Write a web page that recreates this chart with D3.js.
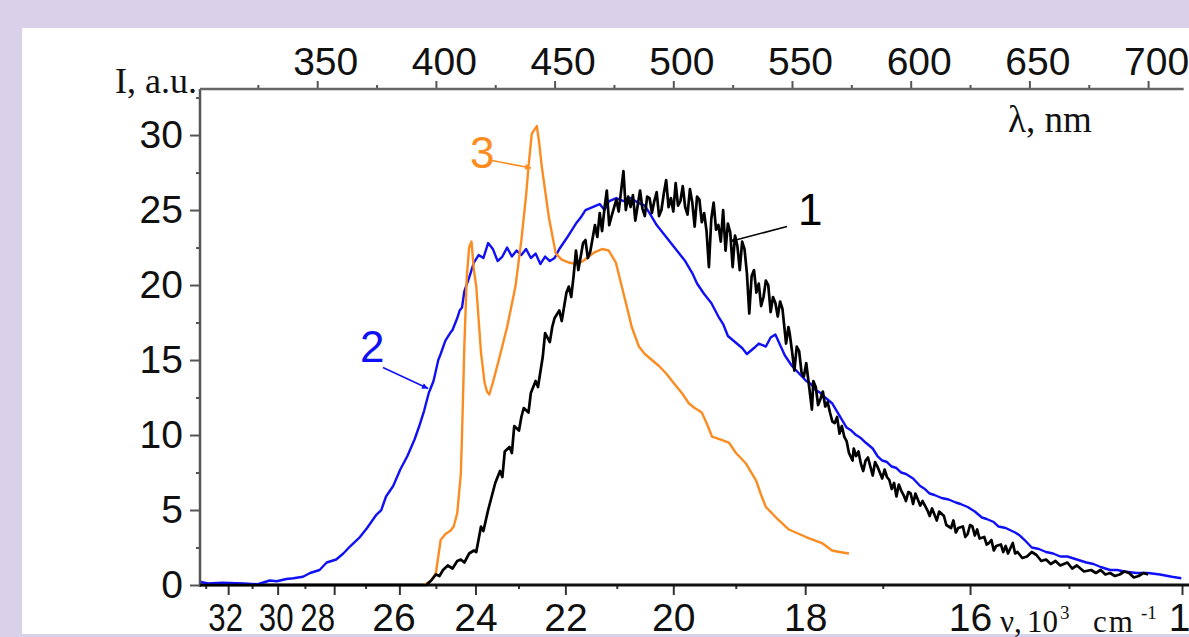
<!DOCTYPE html>
<html>

<head>
  <meta charset="utf-8">
  <title>Spectra</title>
  <script src="https://cdn.jsdelivr.net/npm/d3@7"></script>
  <style>
    body { margin: 0; background: #d9d1e9; }
    svg { display: block; }
  </style>
</head>

<body>
  <svg width="1189" height="637" id="mainsvg"></svg>
  <script>
    // [wavelength nm, intensity a.u.]
    const curve1 = [[301, 0], [396, 0], [398, 0.3], [400, 0.7], [401.5, 0.6], [403, 1.0], [405, 1.3], [407, 1.1], [409, 1.6], [410.5, 1.7], [412, 1.5],
      [414, 2.1], [416, 2.3], [417, 2.2], [419, 3.9], [420, 3.6], [422, 5.0], [424, 6.2], [425, 6.8], [427, 7.6], [428, 7.2], [429, 8.9],
      [431, 9.2], [432, 8.8], [433, 10.6], [435, 10.3], [436, 11.2], [437, 11.8], [439, 11.5], [440, 12.8], [442, 13.6], [443, 13.2], [445, 15.2], [446, 16.8],
      [448, 16.2], [449, 17.2], [450, 17.8], [452, 18.3], [453, 17.6], [455, 19.5], [456, 19.9], [457, 19.2], [458, 20.6], [459, 22.3], [460, 21.0], [462, 22.8],
      [463, 23.0], [464, 21.8], [465, 22.2], [467, 24.0], [468, 23.2], [469, 24.8], [470, 23.6], [471, 25.1], [472, 26.3], [473, 24.0], [474, 24.6], [476, 25.7], [477, 24.9], [479, 27.6],
      [480, 25.0], [481, 25.9], [482, 25.2], [483, 26.0], [484, 24.3], [486, 26.3], [487, 25.1], [488, 24.6], [489, 25.9], [490, 25.8], [491, 24.8], [492, 25.6], [493, 26.2], [494, 24.6], [495, 25.0], [496, 26.1], [497, 27.0],
      [498, 25.2], [499, 25.8], [500, 24.9], [501, 26.8], [502, 25.3], [503, 25.6], [504, 26.6], [505, 25.2], [506, 24.7], [507, 26.4], [508, 25.5], [509, 23.9], [510, 25.9], [511, 25.7], [512, 24.2], [513, 24.8], [514, 23.6], [515, 21.2], [516, 24.4], [517, 25.5],
      [518, 23.7], [519, 24.0], [520, 22.9], [521, 25.0], [522, 22.3], [523, 24.1], [524, 23.5], [525, 21.2], [526, 23.3], [527, 22.6], [528, 21.0], [529, 22.9], [530, 22.4], [531, 20.8], [532, 18.1], [533, 20.6], [534, 21.0],
      [535, 19.5], [536, 20.1], [537, 18.6], [538, 19.2], [539, 20.3], [540, 20.0], [541, 18.2], [542, 19.2], [543, 18.8], [544, 17.9], [545, 18.9], [546, 18.4], [547.5, 16.1], [548.5, 17.2], [549, 16.8], [550, 15.6], [551, 14.3], [552, 15.9], [553, 15.6],
      [554, 14.2], [555, 13.9], [556, 14.8], [557, 13.5], [558.4, 11.7], [559, 13.6], [560, 13.2], [561, 12.0], [562, 12.4], [563, 12.9], [564, 11.9], [565, 12.2], [566, 11.5], [567, 10.9], [568, 10.8], [569, 11.2], [570, 10.1], [571, 10.6], [572, 9.9],
      [573, 9.6], [574, 8.8], [575.5, 8.3], [576, 9.1], [577, 8.6], [578, 8.9], [579, 8.1], [580, 7.6], [581, 8.3], [582, 8.5], [583, 7.9], [584, 7.3], [585, 8.2], [586, 7.9], [587, 7.5], [588, 7.1], [589, 7.7], [590, 7.2], [591, 7.0],
      [592, 6.4], [593, 6.8], [594, 5.9], [595, 6.7], [596, 6.3], [597, 6.0], [598, 5.6], [599, 6.2], [600, 6.1], [601, 5.4], [602, 6.1], [603, 5.7], [604, 5.3], [605, 5.6], [607, 5.0], [608, 4.6], [609, 5.1], [611, 4.3], [612, 4.9], [614, 4.6], [615, 4.0], [617, 3.8],
      [618, 4.3], [619, 3.5], [620, 3.8], [622, 3.9], [623, 3.2], [624, 3.4], [625, 4.0], [626, 3.9], [627, 3.3], [628, 3.7], [629, 3.1], [631, 3.2], [632, 2.7], [633, 2.8], [634, 3.0], [635, 2.3], [636, 2.6], [638, 2.7], [639, 2.2], [640, 2.6],
      [641, 2.1], [643, 2.8], [644, 2.1], [645, 2.2], [647, 1.8], [649, 1.9], [651, 2.2], [653, 2.0], [655, 1.6], [657, 1.7], [659, 1.4], [661, 1.6], [663, 1.3], [666, 1.5], [668, 1.1], [670, 1.3], [673, 0.9], [676, 1.0], [678, 0.8], [680, 1.0],
      [682, 0.7], [684, 0.8], [686, 0.6], [688, 0.7], [690, 0.9], [692, 0.8], [694, 0.5], [696, 0.6], [698, 0.8], [700, 0.7]];

    const curve2 = [[301, 0.2], [304, 0.1], [310, 0.15], [319, 0.1], [325, 0.05], [330, 0.3], [333, 0.25], [337, 0.4], [340, 0.45], [344, 0.55], [347, 0.8], [351, 1.0], [354, 1.5], [358, 1.7], [361, 2.1], [364, 2.6],
      [368, 3.2], [371, 3.8], [375, 4.7], [377, 5.0], [379, 5.9], [382, 6.6], [385, 7.7], [388, 8.6], [391, 9.7], [393, 10.6], [395, 11.6], [396, 12.2], [397, 12.8], [399, 13.6], [401, 15.0], [402, 15.4], [404, 16.3],
      [406, 16.8], [407, 17.0], [409, 17.8], [410, 18.3], [411, 18.5], [412, 19.6], [414, 20.5], [416, 21.5], [418, 22.0], [420, 21.8], [422, 22.8], [424, 22.4], [426, 21.6],
      [428, 21.9], [430, 22.5], [432, 21.9], [434, 22.3], [436, 22.0], [438, 22.4], [440, 21.8], [442, 22.1], [444, 21.4], [446, 21.9],
      [448, 21.6], [450, 21.8], [452, 22.4], [455, 23.1], [457, 23.6], [459, 24.1], [461, 24.5], [463, 25.0], [466, 25.2], [469, 25.4],
      [471, 25.0], [473, 25.6], [476, 25.8], [479, 25.6], [482, 25.8], [485, 25.5], [488, 25.3], [490, 24.8], [493, 24.0], [496, 23.4],
      [499, 22.8], [502, 22.2], [505, 21.6], [508, 20.8], [510, 20.1], [513, 19.4], [516, 18.8], [519, 17.9], [521, 17.4], [523, 16.6],
      [526, 16.2], [529, 15.8], [531, 15.4], [534, 15.8], [536, 16.1], [539, 15.9], [541, 16.5], [543, 16.7], [545, 16.0], [547, 15.3],
      [550, 14.6], [553, 14.1], [556, 13.6], [558, 13.4], [560, 13.0], [562, 12.8], [564, 12.5], [567, 12.1], [570, 11.3], [573, 10.5], [575, 10.3], [577, 10.0], [579, 9.8], [581, 9.5],
      [584, 9.1], [586, 8.6], [588, 8.3], [590, 8.2], [592, 7.9], [594, 7.8], [596, 7.5], [598, 7.4], [601, 7.1], [604, 6.6], [606, 6.4], [608, 6.1], [610, 6.0], [613, 5.8], [616, 5.7], [619, 5.5], [621, 5.4], [624, 5.2],
      [627, 4.9], [630, 4.5], [632, 4.4], [635, 4.2], [637, 3.9], [640, 3.8], [644, 3.5], [646, 3.3], [648, 3.0], [651, 2.5], [654, 2.4], [657, 2.2], [660, 2.1], [663, 1.9], [666, 1.9], [670, 1.7], [674, 1.5],
      [677, 1.4], [680, 1.2], [684, 1.0], [687, 1.0], [690, 0.9], [695, 0.8], [700, 0.8], [705, 0.7], [710, 0.55], [714, 0.45]];

    const curve3 = [[395, 0], [398, 0.3], [400, 0.8], [402, 3.0], [404, 3.4], [406, 3.6], [407.5, 3.9], [409, 4.8], [410.5, 7.4], [411, 10],
      [412, 16], [413, 20.5], [414, 22.5], [415, 22.9], [416, 21], [417, 19.9], [419, 15.5], [420.5, 13.5], [421.5, 12.9], [422.5, 12.7],
      [424, 13.5], [426.5, 15.0], [430, 17.2], [433.5, 19.9], [436, 23.0], [438, 26], [439, 27.9], [440.4, 30.1], [442.5, 30.6], [443.5, 29.5],
      [444.6, 27.9], [447.6, 24.5], [450.5, 22.1], [453, 21.7], [456, 21.5], [459, 21.4], [462, 21.6], [464.4, 21.9], [467, 22.2], [470, 22.4],
      [472.8, 22.3], [475.8, 21.5], [478.3, 19.9], [480.5, 18.5], [482.5, 17.2], [485.5, 15.9], [488, 15.4], [491, 15.0], [494, 14.6], [497, 14.1],
      [500, 13.5], [503.6, 12.8], [506.6, 12.1], [509, 11.8], [512, 11.5], [514, 10.8], [516.3, 9.9], [520, 9.7], [523.4, 9.5], [526.4, 8.8],
      [530.6, 8.1], [534.8, 7.0], [537, 6.0], [539, 5.2], [543.3, 4.5], [548.7, 3.7], [555.9, 3.2], [562.6, 2.8], [566.9, 2.3], [570, 2.2],
      [574, 2.1]];

    const lambdaTicks = [350, 400, 450, 500, 550, 600, 650, 700];
    const lambdaMinor = [325, 375, 425, 475, 525, 575, 625, 675];
    const nuTicks = [32, 30, 28, 26, 24, 22, 20, 18, 16, 14];
    const nuMinor = [33, 31, 29, 27, 25, 23, 21, 19, 17, 15];
    const iTicks = [0, 5, 10, 15, 20, 25, 30];
    const iMinor = [2.5, 7.5, 12.5, 17.5, 22.5, 27.5, 32.5];

    const svg = d3.select('#mainsvg');
    const width = +svg.attr('width');
    const height = +svg.attr('height');

    // lavender frame + white panel
    svg.append('rect').attr('width', width).attr('height', height).attr('fill', '#d9d1e9');
    svg.append('rect').attr('x', 22).attr('y', 28).attr('width', width - 22).attr('height', 606).attr('fill', '#ffffff');

    const xScale = d3.scaleLinear().domain([300, 715]).range([198.5, 1183.7]);
    const yScale = d3.scaleLinear().domain([0, 33.07]).range([585, 89]);
    // wavenumber (10^3 cm-1) -> wavelength 1e4/nu, placed on the same x scale
    const nuDomain = d3.range(33, 13, -1);
    const nuScale = d3.scaleLinear().domain(nuDomain).range(nuDomain.map(v => xScale(1e4 / v)));

    const tickFont = "'Liberation Sans', Arial, sans-serif";
    const serif = "'Liberation Serif', 'Times New Roman', serif";

    const styleAxis = (g, color) => {
      g.select('.domain').remove();
      g.selectAll('line').attr('stroke', color).attr('stroke-width', 2);
      g.selectAll('text').attr('font-family', tickFont).attr('font-size', 39).attr('fill', '#111');
    };

    // top wavelength axis
    const topG = svg.append('g').attr('transform', `translate(0, ${yScale(33.07)})`);
    topG.call(d3.axisTop(xScale).tickValues(lambdaMinor).tickSize(4).tickFormat(''));
    topG.call(g => styleAxis(g, '#555'));
    const topMajor = svg.append('g').attr('transform', `translate(0, ${yScale(33.07)})`)
      .call(d3.axisTop(xScale).tickValues(lambdaTicks).tickSize(8).tickPadding(6));
    topMajor.call(g => styleAxis(g, '#555'));
    topMajor.selectAll('text').attr('dx', 8);

    // left intensity axis
    const leftG = svg.append('g').attr('transform', 'translate(200, 0)');
    leftG.call(d3.axisLeft(yScale).tickValues(iMinor).tickSize(4).tickFormat(''));
    leftG.call(g => styleAxis(g, '#555'));
    const leftMajor = svg.append('g').attr('transform', 'translate(200, 0)')
      .call(d3.axisLeft(yScale).tickValues(iTicks).tickSize(10).tickPadding(7));
    leftMajor.call(g => styleAxis(g, '#555'));

    // bottom wavenumber axis
    const botG = svg.append('g').attr('transform', `translate(0, ${yScale(0)})`);
    botG.call(d3.axisBottom(nuScale).tickValues(nuMinor).tickSize(4).tickFormat(''));
    botG.call(g => styleAxis(g, '#333'));
    const botMajor = svg.append('g').attr('transform', `translate(0, ${yScale(0)})`)
      .call(d3.axisBottom(nuScale).tickValues(nuTicks).tickSize(10).tickPadding(8).tickFormat(d3.format('d')));
    botMajor.call(g => styleAxis(g, '#333'));
    // the crowded labels at the high-wavenumber end are squeezed in the original
    const shift = { 32: -3, 30: -2, 28: -17, 26: -6, 14: 8 };
    botMajor.selectAll('.tick text')
      .attr('transform', d => d >= 28 ? `translate(${shift[d]},0) scale(0.8,1)` : `translate(${shift[d] || 0},0)`);

    // axis lines
    svg.append('line').attr('x1', 200).attr('x2', 200).attr('y1', yScale(33.07)).attr('y2', yScale(0) + 2)
      .attr('stroke', '#555').attr('stroke-width', 2.5);
    svg.append('line').attr('x1', 200).attr('x2', xScale(715)).attr('y1', yScale(33.07)).attr('y2', yScale(33.07))
      .attr('stroke', '#666').attr('stroke-width', 2.5);
    svg.append('line').attr('x1', 200).attr('x2', width).attr('y1', yScale(0)).attr('y2', yScale(0))
      .attr('stroke', '#111').attr('stroke-width', 3);

    // curves
    const line = d3.line().x(d => xScale(d[0])).y(d => yScale(d[1]));
    const series = [
      { data: curve2, color: '#1010f5', w: 2.4 },
      { data: curve3, color: '#fb8c22', w: 2.4 },
      { data: curve1, color: '#000000', w: 2.7 }
    ];
    svg.selectAll('path.curve').data(series).enter().append('path')
      .attr('class', 'curve')
      .attr('d', d => line(d.data))
      .attr('fill', 'none')
      .attr('stroke', d => d.color)
      .attr('stroke-width', d => d.w)
      .attr('stroke-linejoin', 'round');

    // axis titles
    svg.append('text').attr('x', 197).attr('y', 93).attr('text-anchor', 'end')
      .attr('font-family', serif).attr('font-size', 36).attr('fill', '#111').text('I, a.u.');
    svg.append('text').attr('x', 1008).attr('y', 132)
      .attr('font-family', serif).attr('font-size', 37).attr('fill', '#111').text('λ, nm');
    const nuLabel = svg.append('text').attr('y', 632)
      .attr('font-family', serif).attr('font-size', 31).attr('fill', '#111');
    nuLabel.append('tspan').attr('x', 1000).text('ν,');
    nuLabel.append('tspan').attr('x', 1027).text('10');
    nuLabel.append('tspan').attr('x', 1060).attr('font-size', 19).attr('dy', -13).text('3');
    nuLabel.append('tspan').attr('x', 1093).attr('dy', 13).attr('letter-spacing', 2).text('cm');
    nuLabel.append('tspan').attr('x', 1141).attr('font-size', 19).attr('dy', -13).text('-1');

    // curve annotations with arrows
    const defs = svg.append('defs');
    const notes = [
      { label: '1', color: '#000000', text: [552.5, 24.0], from: [547.9, 23.9], to: [523.9, 22.9] },
      { label: '2', color: '#1010f5', text: [368.0, 14.9], from: [377.7, 14.5], to: [396.7, 13.1] },
      { label: '3', color: '#fb8c22', text: [414.4, 27.8], from: [423.6, 28.3], to: [440.1, 27.8] }
    ];
    notes.forEach((n, i) => {
      defs.append('marker').attr('id', 'arr' + i)
        .attr('viewBox', '0 0 10 10').attr('refX', 10).attr('refY', 5)
        .attr('markerWidth', 9).attr('markerHeight', 6).attr('markerUnits', 'userSpaceOnUse')
        .attr('orient', 'auto')
        .append('path').attr('d', 'M0,0 L10,5 L0,10 Z').attr('fill', n.color);
      svg.append('line')
        .attr('x1', xScale(n.from[0])).attr('y1', yScale(n.from[1]))
        .attr('x2', xScale(n.to[0])).attr('y2', yScale(n.to[1]))
        .attr('stroke', n.color).attr('stroke-width', 1.5)
        .attr('marker-end', `url(#arr${i})`);
      svg.append('text').attr('x', xScale(n.text[0])).attr('y', yScale(n.text[1]))
        .attr('font-family', tickFont).attr('font-size', 44).attr('fill', n.color).text(n.label);
    });
  </script>
</body>

</html>
